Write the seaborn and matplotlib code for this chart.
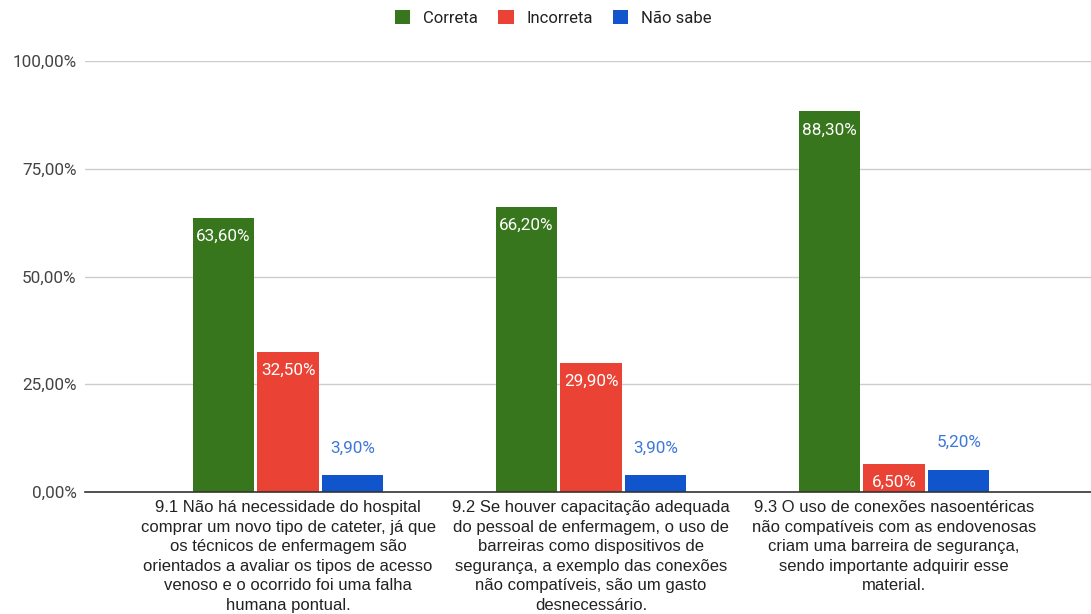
import matplotlib
matplotlib.use("Agg")
import matplotlib.pyplot as plt
import seaborn as sns
import pandas as pd
from matplotlib.ticker import FuncFormatter

categories = [
    "9.1 Não há necessidade do hospital\ncomprar um novo tipo de cateter, já que\nos técnicos de enfermagem são\norientados a avaliar os tipos de acesso\nvenoso e o ocorrido foi uma falha\nhumana pontual.",
    "9.2 Se houver capacitação adequada\ndo pessoal de enfermagem, o uso de\nbarreiras como dispositivos de\nsegurança, a exemplo das conexões\nnão compatíveis, são um gasto\ndesnecessário.",
    "9.3 O uso de conexões nasoentéricas\nnão compatíveis com as endovenosas\ncriam uma barreira de segurança,\nsendo importante adquirir esse\nmaterial.",
]
series = ["Correta", "Incorreta", "Não sabe"]
correta = [63.6, 66.2, 88.3]
incorreta = [32.5, 29.9, 6.5]
nao_sabe = [3.9, 3.9, 5.2]
colors = ["#38761d", "#ea4335", "#1155cc"]

rows = []
for i, c in enumerate(categories):
    for s, vals in zip(series, [correta, incorreta, nao_sabe]):
        rows.append({"cat": c, "serie": s, "val": vals[i]})
df = pd.DataFrame(rows)

sns.set_theme(style="white")
plt.rcParams["font.family"] = ["Roboto", "DejaVu Sans"]

fig = plt.figure(figsize=(10.91, 6.14), dpi=100)
ax = fig.add_axes([85 / 1091, 1 - 492 / 614, 1 - 85 / 1091, (492 - 61) / 614])

sns.barplot(data=df, x="cat", y="val", hue="serie", hue_order=series,
            palette=colors, width=0.64, gap=0.05, saturation=1,
            edgecolor="none", ax=ax, legend=True)

ax.set_ylim(0, 100)
ax.set_xlim(-0.67, 2.65)
ax.set_yticks([0, 25, 50, 75, 100])
ax.yaxis.set_major_formatter(FuncFormatter(lambda v, p: f"{v:.2f}%".replace(".", ",")))
ax.grid(axis="y", color="#cccccc", linewidth=1)
ax.set_axisbelow(True)
for sp in ["top", "right", "left"]:
    ax.spines[sp].set_visible(False)
ax.spines["bottom"].set_color("#333333")
ax.spines["bottom"].set_linewidth(1.2)
ax.tick_params(axis="y", length=0, labelsize=12.3, labelcolor="#444444", pad=6)
ax.tick_params(axis="x", length=0, pad=6)
ax.set_xlabel("")
ax.set_ylabel("")
ax.set_xticks(range(len(categories)))
ax.set_xticklabels(categories, fontsize=12, color="#222222",
                   family=["Liberation Sans", "DejaVu Sans"], linespacing=1.37)

for cont in ax.containers:
    for bar, v in zip(cont, cont.datavalues):
        txt = f"{v:.2f}%".replace(".", ",")
        x = bar.get_x() + bar.get_width() / 2
        h = bar.get_height()
        if v > 6:
            ax.annotate(txt, (x, h), xytext=(0, -8), textcoords="offset points",
                        ha="center", va="top", color="white", fontsize=12.3)
        else:
            ax.annotate(txt, (x, h), xytext=(0, 14), textcoords="offset points",
                        ha="center", va="bottom", color="#3d78d8", fontsize=12.3)

leg = ax.legend(loc="center", bbox_to_anchor=(553 / 1091, 1 - 18 / 614),
                bbox_transform=fig.transFigure, ncol=3, frameon=False,
                fontsize=12, handlelength=0.95, handleheight=0.95,
                handletextpad=0.75, columnspacing=1.2)
for t in leg.get_texts():
    t.set_color("#222222")

fig.savefig("out.png", dpi=100)
